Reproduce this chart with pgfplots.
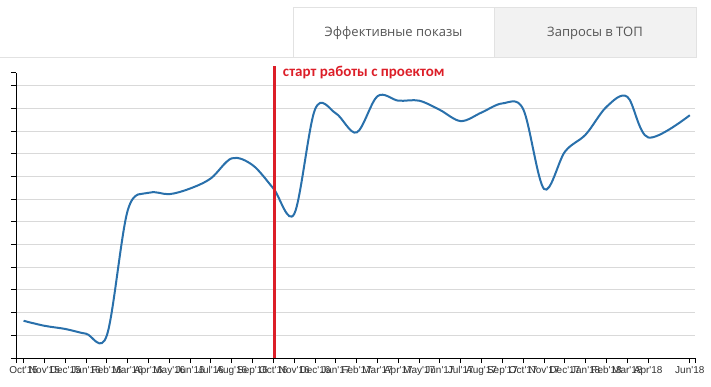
\documentclass[border=0pt]{standalone}
\usepackage{fontspec}
\setmainfont{Liberation Sans}
\newfontfamily\tabfont{Open Sans}
\newfontfamily\annfont{Carlito}
\usepackage{pgfplots}
\pgfplotsset{compat=1.18}
\usepackage{pgfplotstable}
\definecolor{lineblue}{RGB}{41,112,171}
\definecolor{gridgray}{RGB}{217,217,217}
\definecolor{tabborder}{RGB}{226,226,226}
\definecolor{tabgray}{RGB}{242,242,242}
\definecolor{tabtext}{RGB}{85,85,85}
\definecolor{labeltext}{RGB}{51,51,51}
\definecolor{startred}{RGB}{220,30,40}
\newcommand{\q}{\textquotesingle}
\pgfplotstableread{
x y
0 1.64
1 1.42
2 1.28
3 1.07
4 1.0
5 6.5
6 7.28
7 7.22
8 7.47
9 7.92
10 8.8
11 8.5
12 7.47
13 6.35
14 10.96
15 10.78
16 9.94
17 11.54
18 11.34
19 11.34
20 10.93
21 10.44
22 10.82
23 11.22
24 10.96
25 7.45
26 9.09
27 9.85
28 11.07
29 11.51
30 9.72
32 10.70
}\datatable
\begin{document}
\begin{tikzpicture}[x=1bp,y=1bp]
\useasboundingbox (0,0) rectangle (711,386);
% tabs
\draw[tabborder, line width=1bp] (0,329) -- (696,329);
\filldraw[fill=tabgray, draw=tabborder, line width=1bp] (494,329) rectangle (696,378);
\filldraw[fill=white, draw=tabborder, line width=1bp] (293,329) rectangle (494,378);
\node[text=tabtext, font=\tabfont\fontsize{13bp}{15bp}\selectfont] at (393.5,353) {Эффективные показы};
\node[text=tabtext, font=\tabfont\fontsize{13bp}{15bp}\selectfont] at (595,353) {Запросы в ТОП};
\begin{axis}[
  at={(16bp,28bp)}, anchor=south west,
  scale only axis, width=679bp, height=285bp,
  xmin=-0.365, xmax=32.25, ymin=0, ymax=12.56,
  axis lines*=left,
  axis line style={black, line width=1bp},
  tick align=outside,
  major tick length=5bp,
  tick style={black, line width=1bp},
  ytick={1,2,...,12}, yticklabels={},
  extra y ticks={0,12.56}, extra y tick labels={}, extra y tick style={grid=none},
  ymajorgrids, major grid style={gridgray, line width=1bp},
  xtick={0,1,...,30,32},
  xticklabels={Oct\q15,Nov\q15,Dec\q15,Jan\q16,Feb\q16,Mar\q16,Apr\q16,May\q16,Jun\q16,Jul\q16,Aug\q16,Sep\q16,Oct\q16,Nov\q16,Dec\q16,Jan\q17,Feb\q17,Mar\q17,Apr\q17,May\q17,Jun\q17,Jul\q17,Aug\q17,Sep\q17,Oct\q17,Nov\q17,Dec\q17,Jan\q18,Feb\q18,Mar\q18,Apr\q18,Jun\q18},
  extra x ticks={-0.365,32.25}, extra x tick labels={},
  x tick label style={font=\fontsize{10bp}{12bp}\selectfont, text=labeltext, inner sep=1bp, yshift=-2.5bp},
  clip=false,
]
\addplot[lineblue, line width=2bp, smooth, tension=0.55] table[x=x,y=y] {\datatable};
\draw[startred, line width=3bp] (axis cs:12.05,0) -- (axis cs:12.05,12.86);
\node[anchor=base west, inner sep=0pt, text=startred, font=\annfont\bfseries\fontsize{15bp}{17bp}\selectfont] at (axis cs:12.45,12.42) {старт работы с проектом};
\end{axis}
\end{tikzpicture}
\end{document}
